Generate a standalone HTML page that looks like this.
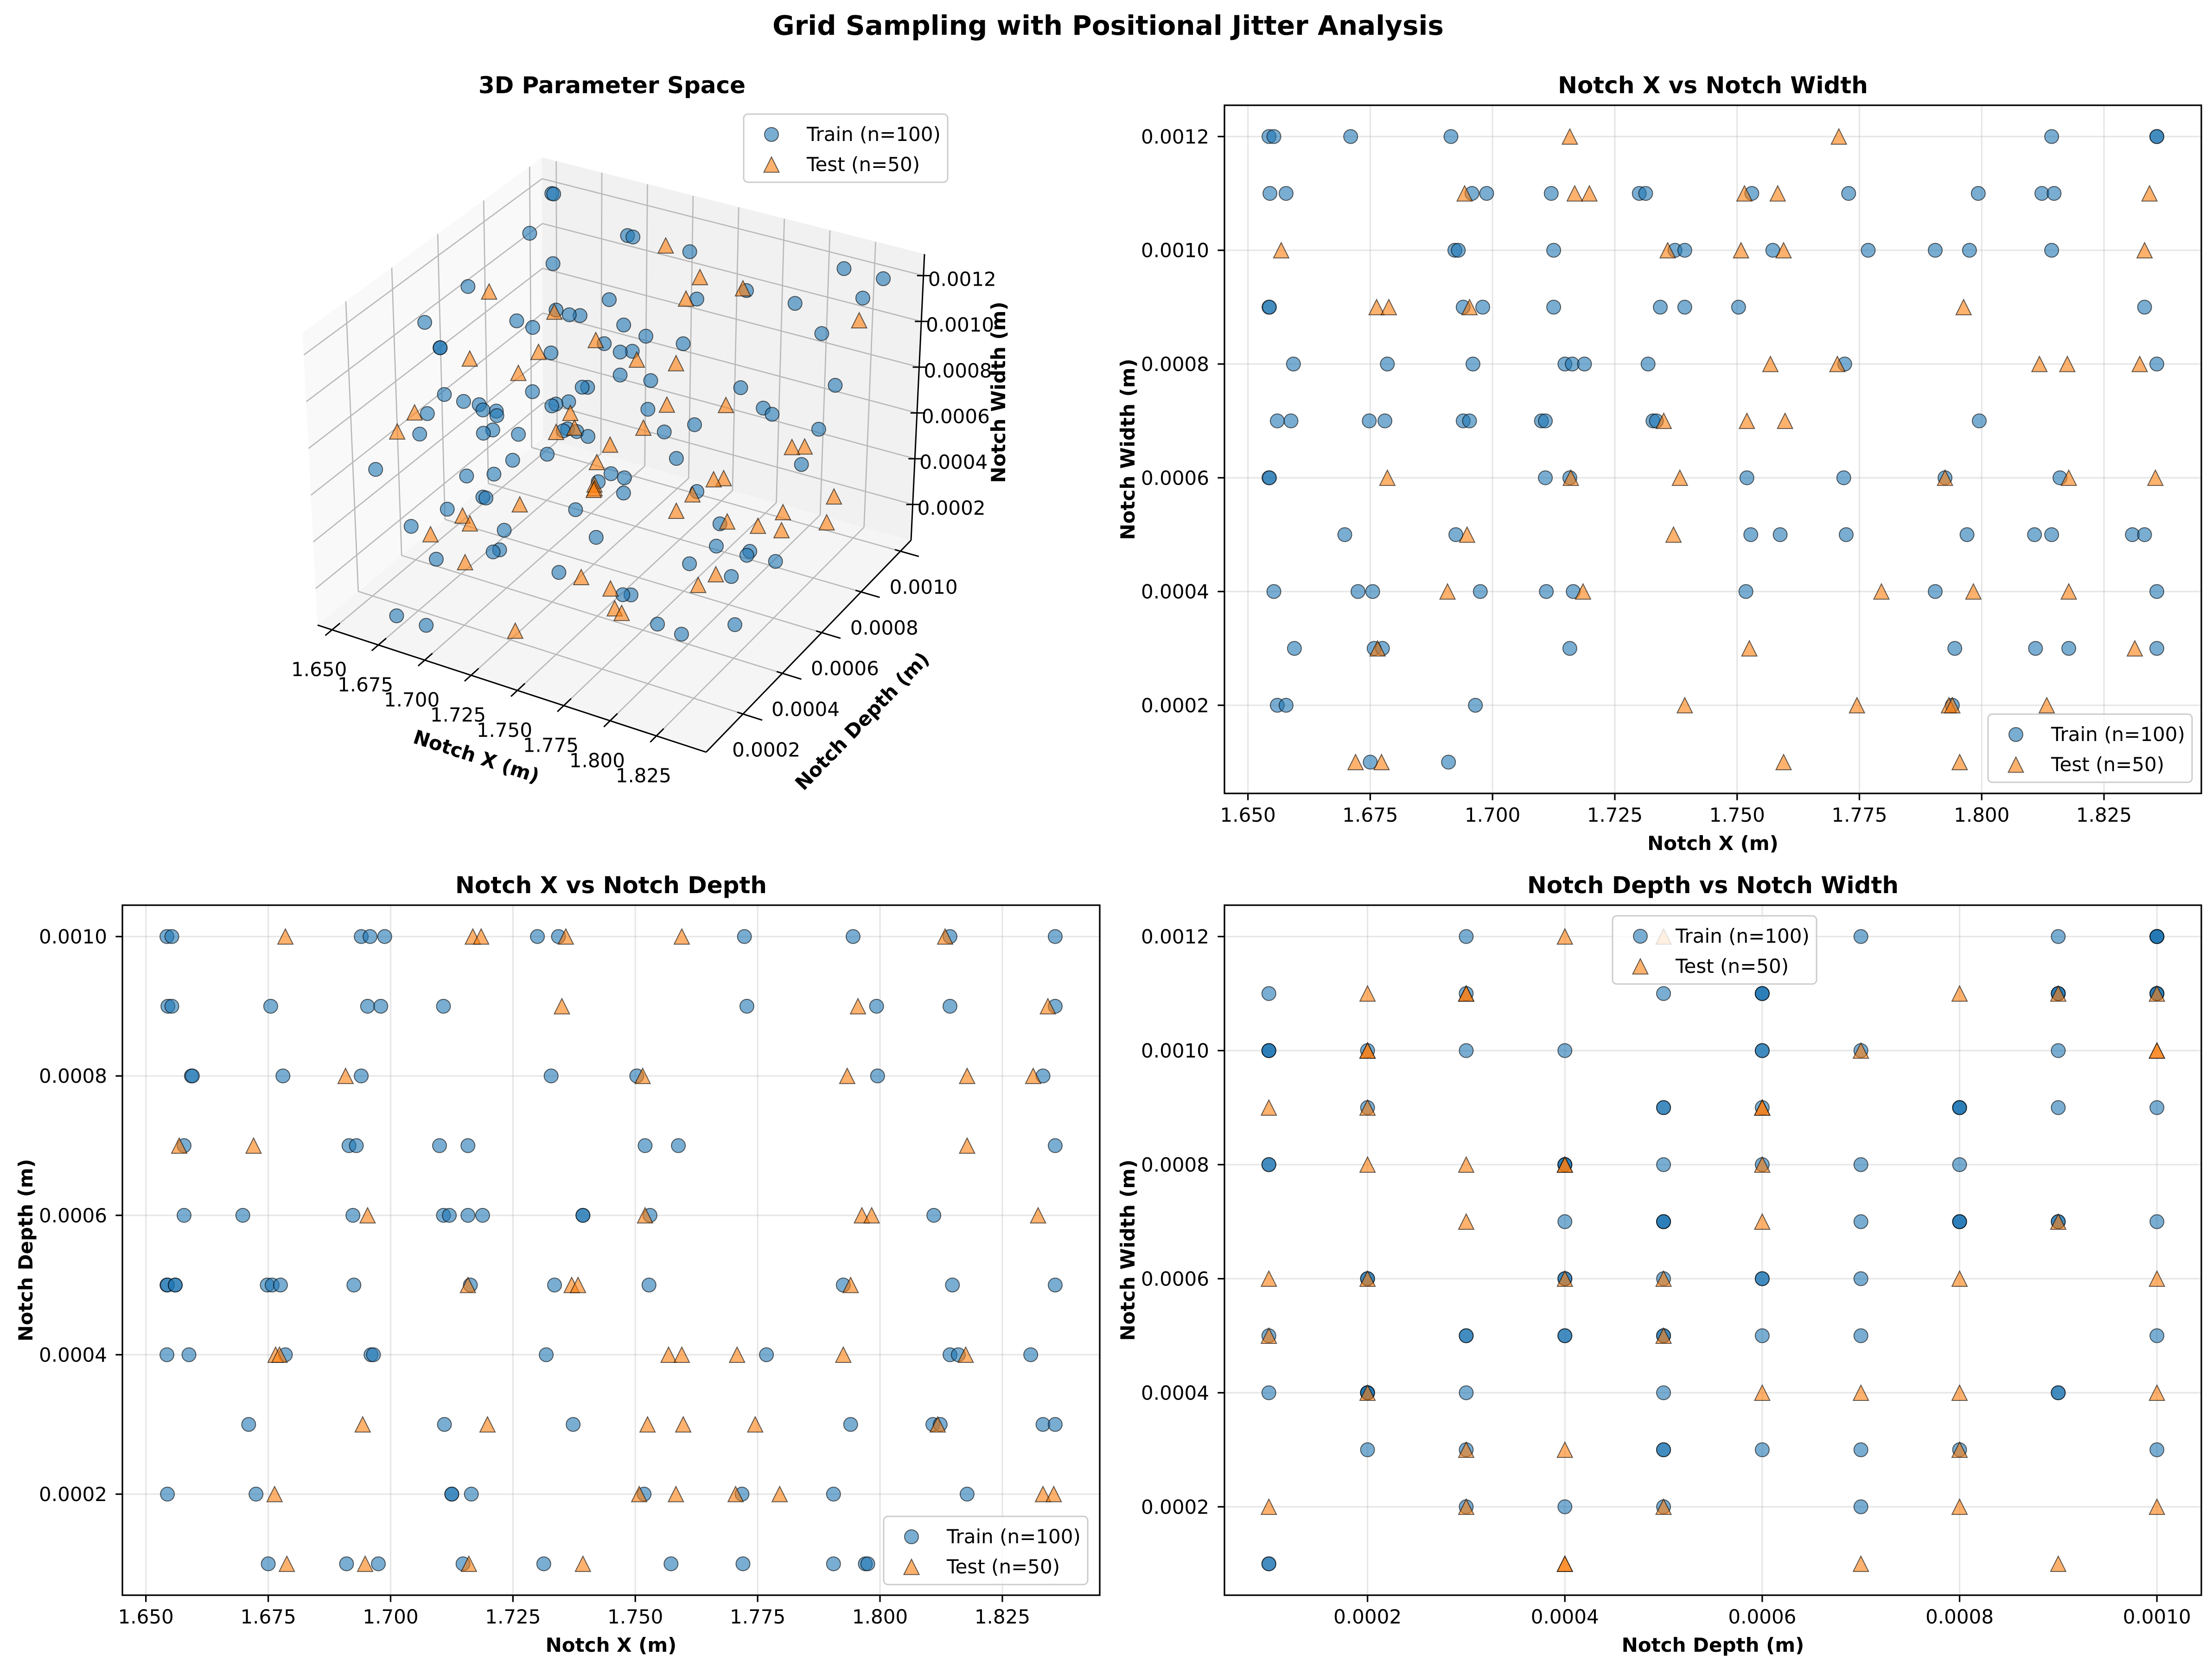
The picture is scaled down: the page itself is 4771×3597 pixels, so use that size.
<!DOCTYPE html>
<html><head><meta charset="utf-8"><title>Grid Sampling with Positional Jitter Analysis</title>
<style>
html,body{margin:0;padding:0;background:#fff;}
svg{display:block;font-family:"DejaVu Sans","Liberation Sans",sans-serif;}
</style></head>
<body>
<svg id="fig" width="4771" height="3597" viewBox="0 0 4771 3597" xmlns="http://www.w3.org/2000/svg">
<rect x="0" y="0" width="4771" height="3597" fill="#ffffff"/>
<text x="2390" y="75" text-anchor="middle" font-size="58" font-weight="bold">Grid Sampling with Positional Jitter Analysis</text>
</svg>
<script>
// ---------- data ----------
const trainX = [1.6543,1.6553,1.6545,1.6543,1.6544,1.6543,1.6544,1.6553,1.6560,1.6560,1.6578,1.6578,1.6588,1.6593,1.6595,
1.6698,1.6710,1.6725,1.6748,1.6750,1.6755,1.6758,1.6775,1.6780,1.6785,
1.6910,1.6915,1.6923,1.6925,1.6930,1.6940,1.6940,1.6953,1.6958,1.6960,1.6965,1.6975,1.6980,1.6988,
1.7100,1.7108,1.7108,1.7110,1.7120,1.7125,1.7125,1.7148,1.7158,1.7158,1.7163,1.7165,1.7188,
1.7300,1.7313,1.7318,1.7328,1.7335,1.7343,1.7373,1.7393,1.7393,
1.7503,1.7518,1.7520,1.7528,1.7530,1.7573,1.7588,
1.7718,1.7720,1.7723,1.7728,1.7768,
1.7905,1.7905,1.7925,1.7940,1.7945,1.7970,1.7975,1.7993,1.7995,
1.8108,1.8110,1.8123,1.8143,1.8143,1.8143,1.8148,1.8160,1.8178,
1.8308,1.8333,1.8333,1.8358,1.8358,1.8358,1.8358,1.8358];
const trainDepth = [0.0010,0.0010,0.0009,0.0005,0.0005,0.0004,0.0002,0.0009,0.0005,0.0005,0.0007,0.0006,0.0004,0.0008,0.0008,
0.0006,0.0003,0.0002,0.0005,0.0001,0.0009,0.0005,0.0005,0.0008,0.0004,
0.0001,0.0007,0.0006,0.0005,0.0007,0.0008,0.0010,0.0009,0.0010,0.0004,0.0004,0.0001,0.0009,0.0010,
0.0007,0.0009,0.0006,0.0003,0.0006,0.0002,0.0002,0.0001,0.0006,0.0007,0.0005,0.0002,0.0006,
0.0010,0.0001,0.0004,0.0008,0.0005,0.0010,0.0003,0.0006,0.0006,
0.0008,0.0002,0.0007,0.0005,0.0006,0.0001,0.0007,
0.0002,0.0001,0.0010,0.0009,0.0004,
0.0001,0.0002,0.0005,0.0003,0.0010,0.0001,0.0001,0.0009,0.0008,
0.0003,0.0006,0.0003,0.0010,0.0009,0.0004,0.0005,0.0004,0.0002,
0.0004,0.0008,0.0003,0.0010,0.0009,0.0007,0.0005,0.0003];
const trainWidth = [0.0012,0.0012,0.0011,0.0009,0.0009,0.0006,0.0006,0.0004,0.0002,0.0007,0.0002,0.0011,0.0007,0.0008,0.0003,
0.0005,0.0012,0.0004,0.0007,0.0001,0.0004,0.0003,0.0003,0.0007,0.0008,
0.0001,0.0012,0.0010,0.0005,0.0010,0.0009,0.0007,0.0007,0.0011,0.0008,0.0002,0.0004,0.0009,0.0011,
0.0007,0.0007,0.0006,0.0004,0.0011,0.0010,0.0009,0.0008,0.0006,0.0003,0.0008,0.0004,0.0008,
0.0011,0.0011,0.0008,0.0007,0.0007,0.0009,0.0010,0.0010,0.0009,
0.0009,0.0004,0.0006,0.0005,0.0011,0.0010,0.0005,
0.0006,0.0008,0.0005,0.0011,0.0010,
0.0010,0.0004,0.0006,0.0002,0.0003,0.0005,0.0010,0.0011,0.0007,
0.0005,0.0003,0.0011,0.0012,0.0010,0.0005,0.0011,0.0006,0.0003,
0.0005,0.0009,0.0005,0.0012,0.0012,0.0008,0.0004,0.0003];
const testX = [1.6568,1.6720,1.6763,1.6765,1.6773,1.6785,1.6788,1.6908,1.6943,1.6948,1.6953,1.7158,1.7160,1.7168,1.7185,1.7198,1.7350,1.7358,1.7370,1.7383,1.7393,1.7508,1.7515,1.7520,1.7525,1.7568,1.7583,1.7595,1.7595,1.7598,1.7705,1.7708,1.7745,1.7795,1.7925,1.7933,1.7940,1.7955,1.7963,1.7983,1.8118,1.8133,1.8175,1.8178,1.8178,1.8313,1.8323,1.8333,1.8343,1.8355];
const testDepth = [0.0007,0.0007,0.0002,0.0004,0.0004,0.0010,0.0001,0.0008,0.0003,0.0001,0.0006,0.0005,0.0001,0.0010,0.0010,0.0003,0.0009,0.0010,0.0005,0.0005,0.0001,0.0002,0.0008,0.0006,0.0003,0.0004,0.0002,0.0010,0.0004,0.0003,0.0002,0.0004,0.0003,0.0002,0.0004,0.0008,0.0005,0.0009,0.0006,0.0006,0.0003,0.0010,0.0004,0.0008,0.0007,0.0008,0.0006,0.0002,0.0009,0.0002];
const testWidth = [0.0010,0.0001,0.0009,0.0003,0.0001,0.0006,0.0009,0.0004,0.0011,0.0005,0.0009,0.0012,0.0006,0.0011,0.0004,0.0011,0.0007,0.0010,0.0005,0.0006,0.0002,0.0010,0.0011,0.0007,0.0003,0.0008,0.0011,0.0010,0.0001,0.0007,0.0008,0.0012,0.0002,0.0004,0.0006,0.0002,0.0002,0.0001,0.0009,0.0004,0.0008,0.0002,0.0008,0.0006,0.0004,0.0003,0.0008,0.0010,0.0011,0.0006];

const xTicks = [1.650,1.675,1.700,1.725,1.750,1.775,1.800,1.825];
const xTickLabels = ['1.650','1.675','1.700','1.725','1.750','1.775','1.800','1.825'];
const widthTicks = [0.0002,0.0004,0.0006,0.0008,0.0010,0.0012];
const widthTickLabels = ['0.0002','0.0004','0.0006','0.0008','0.0010','0.0012'];
const depthTicks = [0.0002,0.0004,0.0006,0.0008,0.0010];
const depthTickLabels = ['0.0002','0.0004','0.0006','0.0008','0.0010'];
const legendLabels = ['Train (n=100)','Test (n=50)'];

// ---------- helpers ----------
const NS = 'http://www.w3.org/2000/svg';
const svg = document.getElementById('fig');
function el(tag, parent, attrs){
  const e = document.createElementNS(NS, tag);
  for (const k in attrs) e.setAttribute(k, attrs[k]);
  parent.appendChild(e);
  return e;
}
function txt(parent, x, y, s, attrs){
  const t = el('text', parent, Object.assign({x:x, y:y}, attrs||{}));
  t.textContent = s;
  return t;
}
function circleMark(g, cx, cy){
  return el('circle', g, {cx:cx, cy:cy, r:15, fill:'#1f77b4', 'fill-opacity':0.6, stroke:'#000', 'stroke-opacity':0.6, 'stroke-width':2});
}
function triMark(g, cx, cy){
  const h = 16.5;
  return el('polygon', g, {points:(cx)+','+(cy-h)+' '+(cx-h)+','+(cy+h)+' '+(cx+h)+','+(cy+h), fill:'#ff7f0e', 'fill-opacity':0.6, stroke:'#000', 'stroke-opacity':0.6, 'stroke-width':2});
}
function legend(parent, l, t, w, h){
  const g = el('g', parent, {});
  
  
  el('rect', g, {x:l, y:t, width:w, height:h, rx:9, fill:'#fff', 'fill-opacity':0.8, stroke:'#cccccc', 'stroke-width':3});
  const e1 = el('g', g, {});
  
  
  circleMark(e1, l+60, t+44);
  txt(e1, l+136, t+58, legendLabels[0], {'font-size':42});
  const e2 = el('g', g, {});
  
  
  triMark(e2, l+60, t+109);
  txt(e2, l+136, t+123, legendLabels[1], {'font-size':42});
}

// ---------- 2D panels ----------
function panel2d(name, f, xlim, ylim, xt, xtl, yt, ytl, trX, trY, teX, teY, title, xlabel, ylabel, leg){
  const g = el('g', svg, {});
  
  
  const sx = v => f.l + (v - xlim[0]) / (xlim[1] - xlim[0]) * (f.r - f.l);
  const sy = v => f.b - (v - ylim[0]) / (ylim[1] - ylim[0]) * (f.b - f.t);
  const grid = el('g', g, {stroke:'#b0b0b0', 'stroke-opacity':0.3, 'stroke-width':3.3});
  
  
  xt.forEach(v => el('line', grid, {x1:sx(v), x2:sx(v), y1:f.t, y2:f.b}));
  yt.forEach(v => el('line', grid, {x1:f.l, x2:f.r, y1:sy(v), y2:sy(v)}));
  const pts = el('g', g, {});
  
  
  for (let i = 0; i < trX.length; i++){
    const c = circleMark(pts, sx(trX[i]), sy(trY[i]));
    
    
  }
  const pts2 = el('g', g, {});
  
  
  for (let i = 0; i < teX.length; i++){
    const p = triMark(pts2, sx(teX[i]), sy(teY[i]));
    
    
  }
  const fr = el('rect', g, {x:f.l, y:f.t, width:f.r-f.l, height:f.b-f.t, fill:'none', stroke:'#000', 'stroke-width':3.3});
  
  
  const xa = el('g', g, {'font-size':42});
  
  
  xt.forEach((v, i) => {
    el('line', xa, {x1:sx(v), x2:sx(v), y1:f.b, y2:f.b+14.6, stroke:'#000', 'stroke-width':3.3});
    txt(xa, sx(v), f.b+61, xtl[i], {'text-anchor':'middle'});
  });
  const ya = el('g', g, {'font-size':42});
  
  
  yt.forEach((v, i) => {
    el('line', ya, {x1:f.l-14.6, x2:f.l, y1:sy(v), y2:sy(v), stroke:'#000', 'stroke-width':3.3});
    txt(ya, f.l-33, sy(v)+15, ytl[i], {'text-anchor':'end'});
  });
  const tt = txt(g, (f.l+f.r)/2, f.t-26, title, {'text-anchor':'middle', 'font-size':50, 'font-weight':'bold'});
  
  
  const xl = txt(g, (f.l+f.r)/2, f.b+122, xlabel, {'text-anchor':'middle', 'font-size':42, 'font-weight':'bold'});
  
  
  const cy = (f.t+f.b)/2, lx = f.l-194;
  const yl = txt(g, lx, cy, ylabel, {'text-anchor':'middle', 'font-size':42, 'font-weight':'bold', transform:'rotate(-90 '+lx+' '+cy+')'});
  
  
  legend(g, leg[0], leg[1], leg[2], leg[3]);
}

panel2d('panel-x-vs-width', {l:2641, r:4748, t:227, b:1711}, [1.6452,1.8449], [0.0000450,0.0012550],
  xTicks, xTickLabels, widthTicks, widthTickLabels, trainX, trainWidth, testX, testWidth,
  'Notch X vs Notch Width', 'Notch X (m)', 'Notch Width (m)', [4288,1540,440,147]);
panel2d('panel-x-vs-depth', {l:264, r:2372, t:1952, b:3440}, [1.6452,1.8449], [0.0000550,0.0010450],
  xTicks, xTickLabels, depthTicks, depthTickLabels, trainX, trainDepth, testX, testDepth,
  'Notch X vs Notch Depth', 'Notch X (m)', 'Notch Depth (m)', [1906,3270,440,147]);
panel2d('panel-depth-vs-width', {l:2641, r:4748, t:1952, b:3440}, [0.0000550,0.0010450], [0.0000450,0.0012550],
  depthTicks, depthTickLabels, widthTicks, widthTickLabels, trainDepth, trainWidth, testDepth, testWidth,
  'Notch Depth vs Notch Width', 'Notch Depth (m)', 'Notch Width (m)', [3478,1975,440,147]);

// ---------- 3D panel ----------
(function(){
  const g = el('g', svg, {});
  
  
  const XL = [1.6422, 1.8518], DL = [0.0000125, 0.001054], ZL = [0.0000438, 0.001294];
  const C = {
    '000':[685,1348], '100':[1523,1622], '110':[1965,1165], '010':[1172,944],
    '001':[653,718],  '101':[1537,987],  '111':[1994,548],  '011':[1169,340]
  };
  function lerp(a, b, t){ return [a[0]+(b[0]-a[0])*t, a[1]+(b[1]-a[1])*t]; }
  function projF(fx, fd, fz){
    const b0 = lerp(C['000'], C['100'], fx), b1 = lerp(C['010'], C['110'], fx);
    const t0 = lerp(C['001'], C['101'], fx), t1 = lerp(C['011'], C['111'], fx);
    const bot = lerp(b0, b1, fd), top = lerp(t0, t1, fd);
    return lerp(bot, top, fz);
  }
  const fX = v => (v - XL[0]) / (XL[1] - XL[0]);
  const fD = v => (v - DL[0]) / (DL[1] - DL[0]);
  const fZ = v => (v - ZL[0]) / (ZL[1] - ZL[0]);
  const proj = (x, d, z) => projF(fX(x), fD(d), fZ(z));
  function poly(parent, pts, attrs){ return el('polygon', parent, Object.assign({points: pts.map(p => p[0]+','+p[1]).join(' ')}, attrs)); }
  function ln(parent, a, b, attrs){ return el('line', parent, Object.assign({x1:a[0], y1:a[1], x2:b[0], y2:b[1]}, attrs)); }

  const panes = el('g', g, {});
  
  
  poly(panes, [projF(0,0,0), projF(1,0,0), projF(1,1,0), projF(0,1,0)], {fill:'#f5f5f5', stroke:'#f5f5f5'});
  poly(panes, [projF(0,0,0), projF(0,1,0), projF(0,1,1), projF(0,0,1)], {fill:'#f9f9f9', stroke:'#f9f9f9'});
  poly(panes, [projF(0,1,0), projF(1,1,0), projF(1,1,1), projF(0,1,1)], {fill:'#f1f1f1', stroke:'#f1f1f1'});

  const grid = el('g', g, {stroke:'#b8b8b8', 'stroke-width':2.6});
  
  
  xTicks.forEach(v => {
    ln(grid, projF(fX(v),0,0), projF(fX(v),1,0));
    ln(grid, projF(fX(v),1,0), projF(fX(v),1,1));
  });
  depthTicks.forEach(v => {
    ln(grid, projF(0,fD(v),0), projF(1,fD(v),0));
    ln(grid, projF(0,fD(v),0), projF(0,fD(v),1));
  });
  widthTicks.forEach(v => {
    ln(grid, projF(0,0,fZ(v)), projF(0,1,fZ(v)));
    ln(grid, projF(0,1,fZ(v)), projF(1,1,fZ(v)));
  });

  const axes = el('g', g, {stroke:'#000', 'stroke-width':3});
  
  
  ln(axes, projF(0,0,0), projF(1,0,0));
  ln(axes, projF(1,0,0), projF(1,1,0));
  ln(axes, projF(1,1,0), projF(1,1,1));

  const lab = el('g', g, {'font-size':42});
  
  
  xTicks.forEach((v, i) => {
    const p = projF(fX(v),0,0), q = projF(fX(v),0.035,0), o = projF(fX(v),-0.03,0);
    ln(axes, q, o, {});
    txt(lab, p[0]-28, p[1]+100, xTickLabels[i], {'text-anchor':'middle'});
  });
  depthTicks.forEach((v, i) => {
    const p = projF(1,fD(v),0), q = projF(0.985,fD(v),0), o = projF(1.05,fD(v),0);
    ln(axes, q, o, {});
    txt(lab, p[0]+50, p[1]+92, depthTickLabels[i], {'text-anchor':'middle'});
  });
  widthTicks.forEach((v, i) => {
    const p = projF(1,1,fZ(v));
    ln(axes, [p[0]-14, p[1]], [p[0]+14, p[1]], {});
    txt(lab, p[0]+10, p[1]+22, widthTickLabels[i], {'text-anchor':'start'});
  });

  const t1 = txt(g, 1023, 1645, 'Notch X (m)', {'text-anchor':'middle', 'font-size':42, 'font-weight':'bold', transform:'rotate(18 1023 1645)'});
  
  
  const t2 = txt(g, 1870, 1565, 'Notch Depth (m)', {'text-anchor':'middle', 'font-size':42, 'font-weight':'bold', transform:'rotate(-46 1870 1565)'});
  
  
  const t3 = txt(g, 2168, 846, 'Notch Width (m)', {'text-anchor':'middle', 'font-size':42, 'font-weight':'bold', transform:'rotate(-90 2168 846)'});
  
  

  const tr = el('g', g, {});
  
  
  for (let i = 0; i < trainX.length; i++){
    const p = proj(trainX[i], trainDepth[i], trainWidth[i]);
    const c = circleMark(tr, p[0], p[1]);
    
    
  }
  const te = el('g', g, {});
  
  
  for (let i = 0; i < testX.length; i++){
    const p = proj(testX[i], testDepth[i], testWidth[i]);
    const m = triMark(te, p[0], p[1]);
    
    
  }

  const tt = txt(g, 1320, 201, '3D Parameter Space', {'text-anchor':'middle', 'font-size':50, 'font-weight':'bold'});
  
  
  legend(g, 1604, 246, 440, 147);
})();
</script>
</body></html>
